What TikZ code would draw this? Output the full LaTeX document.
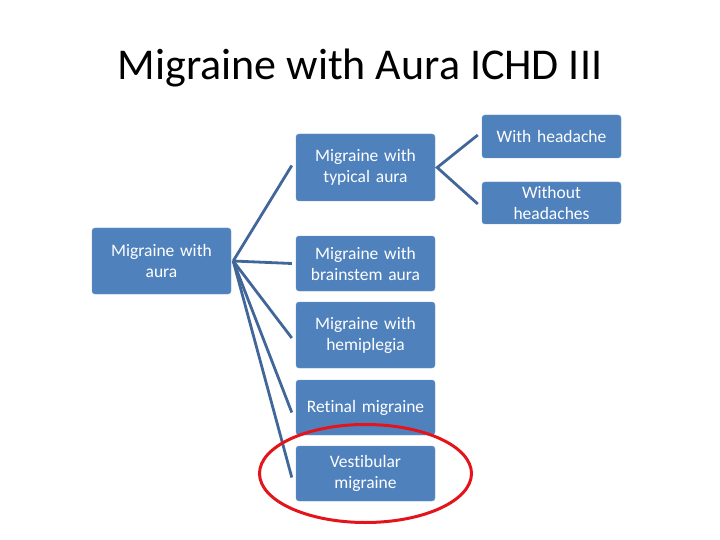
\documentclass[tikz,border=0pt]{standalone}
\usepackage{fontspec}
\setmainfont{Carlito}[Ligatures={NoCommon}]
\usepackage{tikz}

\definecolor{boxblue}{HTML}{4F81BD}
\definecolor{lineblue}{HTML}{41679A}
\definecolor{ringred}{HTML}{E3151B}

\tikzset{
  catbox/.style={draw=boxblue!85!white, fill=boxblue, rounded corners=3pt,
    text=white, align=center, font=\fontsize{17.5}{21}\selectfont,
    minimum width=139pt, text width=134pt, inner sep=2pt},
  link/.style={draw=lineblue, line width=2.8pt}
}

\begin{document}
\begin{tikzpicture}[x=1pt, y=-1pt]
    \useasboundingbox (0, 0) rectangle (720, 540);
    \node[font=\fontsize{44}{50}\selectfont] (title) at (360, 68) {Migraine with Aura ICHD III};

    \node[catbox, minimum height=66pt] (root) at (161.5, 261) {Migraine with\\aura};
    \node[catbox, minimum height=67pt] (typical) at (365.5, 167.5) {Migraine with\\typical aura};
    \node[catbox, minimum height=55pt] (brainstem) at (365.5, 263.5) {Migraine with\\brainstem aura};
    \node[catbox, minimum height=66pt] (hemi) at (365.5, 335) {Migraine with\\hemiplegia};
    \node[catbox, minimum height=55pt] (retinal) at (365.5, 407.5) {Retinal migraine};
    \node[catbox, minimum height=55pt] (vestib) at (365.5, 473.5) {Vestibular\\migraine};

    \node[catbox, minimum height=43pt] (withh) at (551.5, 136.5) {With headache};
    \node[catbox, minimum height=42pt] (without) at (551.5, 203) {Without\\headaches};

    % branches from the root
    \foreach \child/\dy in {typical/2, brainstem/0, hemi/-3, retinal/-5, vestib/-4}
        \draw[link] ([xshift=2pt]root.east) -- ([xshift=-4pt, yshift=\dy pt]\child.west);

    % outcomes of typical aura
    \draw[link] ([xshift=-4pt, yshift=1.5pt]withh.west) -- ([xshift=2pt]typical.east)
        -- ([xshift=-4pt, yshift=-1pt]without.west);

    % highlight
    \draw[ringred, line width=3pt] (vestib) ellipse (106pt and 49pt);
\end{tikzpicture}
\end{document}
